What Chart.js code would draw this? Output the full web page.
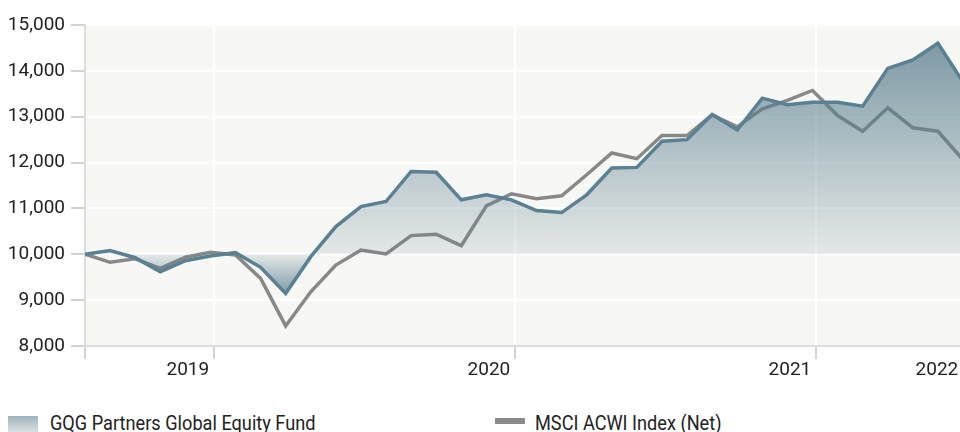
<!DOCTYPE html>
<html>
<head>
<meta charset="utf-8">
<script src="https://cdn.jsdelivr.net/npm/chart.js@4/dist/chart.umd.min.js"></script>
<style>
  html, body { margin: 0; padding: 0; background: #fff; }
  body { width: 960px; height: 432px; overflow: hidden; position: relative; font-family: Roboto, sans-serif; }
  #wrap { position: absolute; left: 0; top: 0; width: 960px; height: 392px; overflow: hidden; }
  .sw-fill { position: absolute; left: 8px; top: 416px; width: 30px; height: 18px;
             background: linear-gradient(#9fb3bc, #dfe6e8); }
  .sw-line { position: absolute; left: 495px; top: 418px; width: 30px; height: 6px; background: #8a8a8a; }
  .lbl { position: absolute; top: 413px; font-size: 21px; line-height: 21px; color: #222;
         white-space: nowrap; transform: scaleX(0.865); transform-origin: left top; }
</style>
</head>
<body>
<div id="wrap"><canvas id="growthChart" width="966" height="392"></canvas></div>
<span class="sw-fill"></span>
<span class="lbl" style="left:50px">GQG Partners Global Equity Fund</span>
<span class="sw-line"></span>
<span class="lbl" style="left:535px">MSCI ACWI Index (Net)</span>
<script>
// growth of 10,000 - monthly points
const fundValues = [10000, 10080, 9925, 9620, 9860, 9963, 10035, 9715, 9147, 9948, 10605, 11041,
  11151, 11807, 11790, 11188, 11297, 11188, 10954, 10910, 11297, 11882, 11895, 12464,
  12500, 13048, 12710, 13405, 13260, 13317, 13317, 13230, 14054, 14236, 14601, 13757];
const indexValues = [10000, 9825, 9900, 9695, 9935, 10045, 9985, 9475, 8438, 9182, 9766, 10094,
  10006, 10407, 10437, 10188, 11057, 11320, 11210, 11275, 11735, 12210, 12085, 12589,
  12589, 13040, 12779, 13172, 13354, 13573, 13026, 12683, 13194, 12757, 12683, 12061];
const yearLabels = ["2019", "2020", "2021", "2022"];
const yearTickAt = [5.14, 17.14, 29.14, 35];
const yTicks = [8000, 9000, 10000, 11000, 12000, 13000, 14000, 15000];
const baseValue = 10000;

const FONT = "Roboto, sans-serif";
const lastX = fundValues.length - 1;

const toPoints = arr => arr.map((v, i) => ({ x: i, y: v }));

function fillGradient(ctx) {
  const chart = ctx.chart;
  const area = chart.chartArea;
  if (!area) return "rgba(95,130,146,0.4)";
  const y = chart.scales.y;
  const top = area.top, bottom = area.bottom, h = bottom - top;
  const pBase = (y.getPixelForValue(baseValue) - top) / h;
  const pLow = (y.getPixelForValue(Math.min(...fundValues)) - top) / h;
  const g = chart.ctx.createLinearGradient(0, top, 0, bottom);
  g.addColorStop(0, "rgba(88,124,141,0.82)");
  g.addColorStop(pBase, "rgba(88,124,141,0.12)");
  g.addColorStop(Math.min(1, pLow), "rgba(88,124,141,0.75)");
  g.addColorStop(1, "rgba(88,124,141,0.75)");
  return g;
}

const plotBg = {
  id: "plotBg",
  beforeDraw(chart) {
    const { ctx, chartArea: a } = chart;
    ctx.save();
    ctx.fillStyle = "#f7f7f3";
    ctx.fillRect(a.left, a.top, a.right - a.left, a.bottom - a.top);
    ctx.restore();
  }
};

new Chart(document.getElementById("growthChart"), {
  type: "line",
  data: {
    datasets: [
      {
        label: "GQG Partners Global Equity Fund",
        data: toPoints(fundValues),
        borderColor: "#5a8193",
        borderWidth: 3.5,
        backgroundColor: fillGradient,
        fill: { target: { value: baseValue } },
        pointRadius: 0,
        tension: 0,
        order: 1
      },
      {
        label: "MSCI ACWI Index (Net)",
        data: toPoints(indexValues),
        borderColor: "#888888",
        borderWidth: 3.5,
        fill: false,
        pointRadius: 0,
        tension: 0,
        order: 2
      }
    ]
  },
  options: {
    responsive: false,
    animation: false,
    layout: { padding: { left: 0, right: 3, top: 25, bottom: 0 } },
    plugins: { legend: { display: false }, tooltip: { enabled: false } },
    scales: {
      x: {
        type: "linear",
        min: 0,
        max: lastX,
        afterBuildTicks: s => { s.ticks = [0].concat(yearTickAt).map(v => ({ value: v })); },
        afterFit: s => { s.height = 46; },
        grid: {
          color: c => (c.tick && (c.tick.value === 0 || c.tick.value === lastX)) ? "rgba(0,0,0,0)" : "#ffffff",
          lineWidth: 2,
          tickColor: "#d2d2d2",
          tickLength: 13
        },
        border: { color: "#dcdcdc", width: 2 },
        ticks: {
          align: "end",
          padding: 0,
          maxRotation: 0,
          autoSkip: false,
          color: "#222",
          font: { family: FONT, size: 19 },
          callback: v => {
            const i = yearTickAt.indexOf(v);
            return i < 0 ? "" : yearLabels[i] + " ";
          }
        }
      },
      y: {
        min: 8000,
        max: 15000,
        afterBuildTicks: s => { s.ticks = yTicks.map(v => ({ value: v })); },
        afterFit: s => { s.width = 85; },
        grid: {
          color: c => (c.tick && c.tick.value === 8000) ? "rgba(0,0,0,0)" : "#ffffff",
          lineWidth: 2,
          tickColor: "#d2d2d2",
          tickLength: 14
        },
        border: { color: "#dcdcdc", width: 2 },
        ticks: {
          padding: 6,
          color: "#222",
          font: { family: FONT, size: 19 },
          callback: v => v.toLocaleString("en-US")
        }
      }
    }
  },
  plugins: [plotBg]
});
</script>
</body>
</html>
